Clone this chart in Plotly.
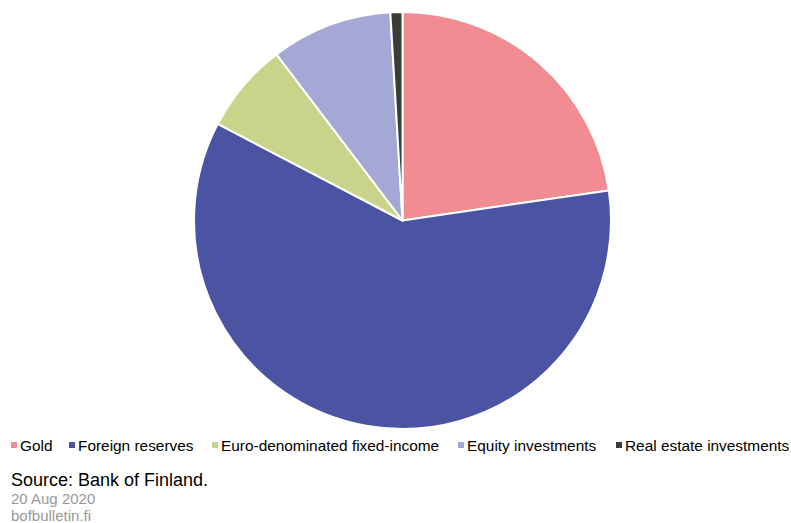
import plotly.graph_objects as go

labels = ["Gold", "Foreign reserves", "Euro-denominated fixed-income",
          "Equity investments", "Real estate investments"]
values = [22.7, 60.0, 7.0, 9.4, 0.93]
colors = ["#f08c92", "#4b54a3", "#c9d48a", "#a3a8d4", "#3a3c38"]

legend_x = [11, 69, 212, 458, 616]  # square left positions (px)

W, H = 791, 523
ML, MR, MT, MB = 14, 0, 12, 94
PW, PH = W - ML - MR, H - MT - MB


def px(x):
    return (x - ML) / PW


def py(y):
    return (H - MB - y) / PH


fig = go.Figure(go.Pie(
    labels=labels, values=values, sort=False, direction="clockwise",
    rotation=0, textinfo="none", hoverinfo="label+percent",
    marker=dict(colors=colors, line=dict(color="white", width=2)),
    domain=dict(x=[0, 1], y=[0, 1]), showlegend=False,
))

shapes = []
annotations = []
for lab, col, x in zip(labels, colors, legend_x):
    shapes.append(dict(type="rect", xref="paper", yref="paper",
                       x0=px(x), x1=px(x + 6), y0=py(448), y1=py(442),
                       fillcolor=col, line=dict(width=0)))
    annotations.append(dict(text=lab, xref="paper", yref="paper",
                            x=px(x + 7), y=py(445),
                            xanchor="left", yanchor="middle", showarrow=False,
                            font=dict(size=15.4, color="#000000")))

annotations += [
    dict(text="Source: Bank of Finland.", xref="paper", yref="paper",
         x=px(9), y=py(480), xanchor="left", yanchor="middle",
         showarrow=False, font=dict(size=18, color="#000000")),
    dict(text="20 Aug 2020", xref="paper", yref="paper",
         x=px(9), y=py(498), xanchor="left", yanchor="middle",
         showarrow=False, font=dict(size=15, color="#999999")),
    dict(text="bofbulletin.fi", xref="paper", yref="paper",
         x=px(9), y=py(515), xanchor="left", yanchor="middle",
         showarrow=False, font=dict(size=15, color="#999999")),
]

fig.update_layout(
    width=W, height=H,
    margin=dict(l=ML, r=MR, t=MT, b=MB),
    paper_bgcolor="white", plot_bgcolor="white",
    font=dict(family="Liberation Sans, Arial, sans-serif"),
    shapes=shapes, annotations=annotations,
)

fig.write_html("out.html")
